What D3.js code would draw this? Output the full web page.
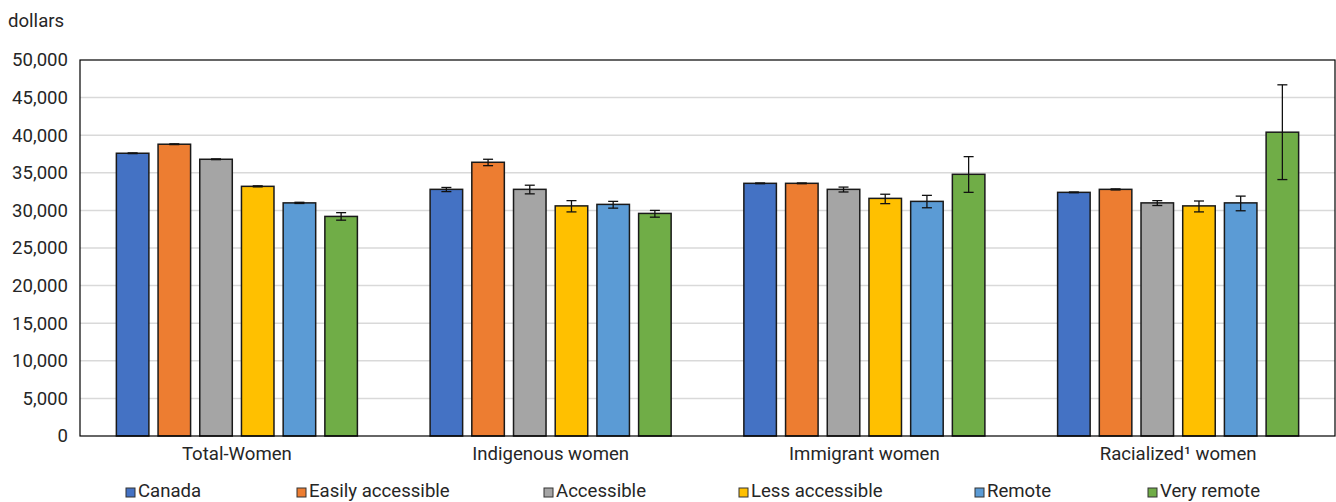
<!DOCTYPE html>
<html>
<head>
<meta charset="utf-8">
<script src="https://cdn.jsdelivr.net/npm/d3@7"></script>
<style>
  html, body { margin: 0; padding: 0; background: #fff; }
  svg { display: block; }
  text { font-family: Roboto, "Noto Sans", sans-serif; fill: #262626; }
</style>
</head>
<body>
<svg id="chart" width="1336" height="502"></svg>
<script>
// Median employment income of women by remoteness
const groups = ["Total-Women", "Indigenous women", "Immigrant women", "Racialized\u00B9 women"];
const seriesNames = ["Canada", "Easily accessible", "Accessible", "Less accessible", "Remote", "Very remote"];
const seriesColors = ["#4472C4", "#ED7D31", "#A5A5A5", "#FFC000", "#5B9BD5", "#70AD47"];

// values[series][group]
const canada           = [37600, 32800, 33600, 32400];
const easilyAccessible = [38800, 36400, 33600, 32800];
const accessible       = [36800, 32800, 32800, 31000];
const lessAccessible   = [33200, 30600, 31600, 30600];
const remote           = [31000, 30800, 31200, 31000];
const veryRemote       = [29200, 29600, 34800, 40400];

// confidence interval bounds, same layout
const lowCanada   = [37550, 32500, 33550, 32350];
const highCanada  = [37650, 33050, 33650, 32450];
const lowEasily   = [38750, 35950, 33550, 32720];
const highEasily  = [38850, 36800, 33650, 32860];
const lowAccess   = [36750, 32200, 32450, 30650];
const highAccess  = [36850, 33350, 33100, 31300];
const lowLess     = [33130, 29800, 30900, 29800];
const highLess    = [33270, 31300, 32150, 31250];
const lowRemote   = [30920, 30300, 30350, 29950];
const highRemote  = [31080, 31200, 32000, 31900];
const lowVery     = [28700, 29100, 32400, 34100];
const highVery    = [29700, 30000, 37150, 46700];

const yTicks = [0, 5000, 10000, 15000, 20000, 25000, 30000, 35000, 40000, 45000, 50000];

const values = [canada, easilyAccessible, accessible, lessAccessible, remote, veryRemote];
const lows   = [lowCanada, lowEasily, lowAccess, lowLess, lowRemote, lowVery];
const highs  = [highCanada, highEasily, highAccess, highLess, highRemote, highVery];

const FONT = "18.6px";
const svg = d3.select("#chart");
const plot = { left: 80, right: 1335, top: 60, bottom: 436 };

const x0 = d3.scaleBand().domain(groups).range([plot.left, plot.right]).paddingInner(0).paddingOuter(0);
const x1 = d3.scaleBand().domain(seriesNames).range([0, x0.bandwidth()]).paddingInner(0.22).paddingOuter(0.872);
const y = d3.scaleLinear().domain([0, 50000]).range([plot.bottom, plot.top]);

// gridlines
svg.append("g").selectAll("line").data(yTicks.slice(1, -1)).join("line")
  .attr("x1", plot.left).attr("x2", plot.right)
  .attr("y1", d => y(d)).attr("y2", d => y(d))
  .attr("stroke", "#d9d9d9").attr("stroke-width", 1.5);

// y axis labels
const yAxis = d3.axisLeft(y).tickValues(yTicks).tickSize(0).tickPadding(12)
  .tickFormat(d3.format(","));
const yg = svg.append("g").attr("transform", `translate(${plot.left},0)`).call(yAxis);
yg.select(".domain").remove();
yg.selectAll("text").style("font-size", FONT).style("font-family", null).attr("fill", "#262626");

// axis unit
svg.append("text").attr("x", 8).attr("y", 27).style("font-size", FONT).text("dollars");

// bars
const flat = [];
seriesNames.forEach((s, si) => groups.forEach((g, gi) => {
  flat.push({ s, si, g, v: values[si][gi], lo: lows[si][gi], hi: highs[si][gi] });
}));

svg.append("g").selectAll("rect").data(flat).join("rect")
  .attr("x", d => x0(d.g) + x1(d.s))
  .attr("y", d => y(d.v))
  .attr("width", x1.bandwidth())
  .attr("height", d => y(0) - y(d.v))
  .attr("fill", d => seriesColors[d.si])
  .attr("stroke", "#1a1a1a").attr("stroke-width", 1.5);

// error bars
const eb = svg.append("g").attr("stroke", "#111").attr("stroke-width", 1.3);
flat.forEach(d => {
  const cx = x0(d.g) + x1(d.s) + x1.bandwidth() / 2;
  eb.append("line").attr("x1", cx).attr("x2", cx).attr("y1", y(d.lo)).attr("y2", y(d.hi));
  [d.lo, d.hi].forEach(v => eb.append("line")
    .attr("x1", cx - 5).attr("x2", cx + 5).attr("y1", y(v)).attr("y2", y(v)));
});

// plot frame
svg.append("rect").attr("x", plot.left).attr("y", plot.top)
  .attr("width", plot.right - plot.left).attr("height", plot.bottom - plot.top)
  .attr("fill", "none").attr("stroke", "#000").attr("stroke-width", 1.2);

// category labels
const xAxis = d3.axisBottom(x0).tickSize(0).tickPadding(11);
const xg = svg.append("g").attr("transform", `translate(0,${plot.bottom})`).call(xAxis);
xg.select(".domain").remove();
xg.selectAll("text").style("font-size", FONT).style("font-family", null).attr("fill", "#262626");

// legend
const legendX = [126, 297, 544, 739, 975, 1148];
const lg = svg.append("g");
seriesNames.forEach((s, i) => {
  lg.append("rect").attr("x", legendX[i]).attr("y", 488).attr("width", 9).attr("height", 9)
    .attr("fill", seriesColors[i]).attr("stroke", "#333").attr("stroke-width", 1);
  lg.append("text").attr("x", legendX[i] + 12).attr("y", 497)
    .style("font-size", FONT).text(s);
});
</script>
</body>
</html>
